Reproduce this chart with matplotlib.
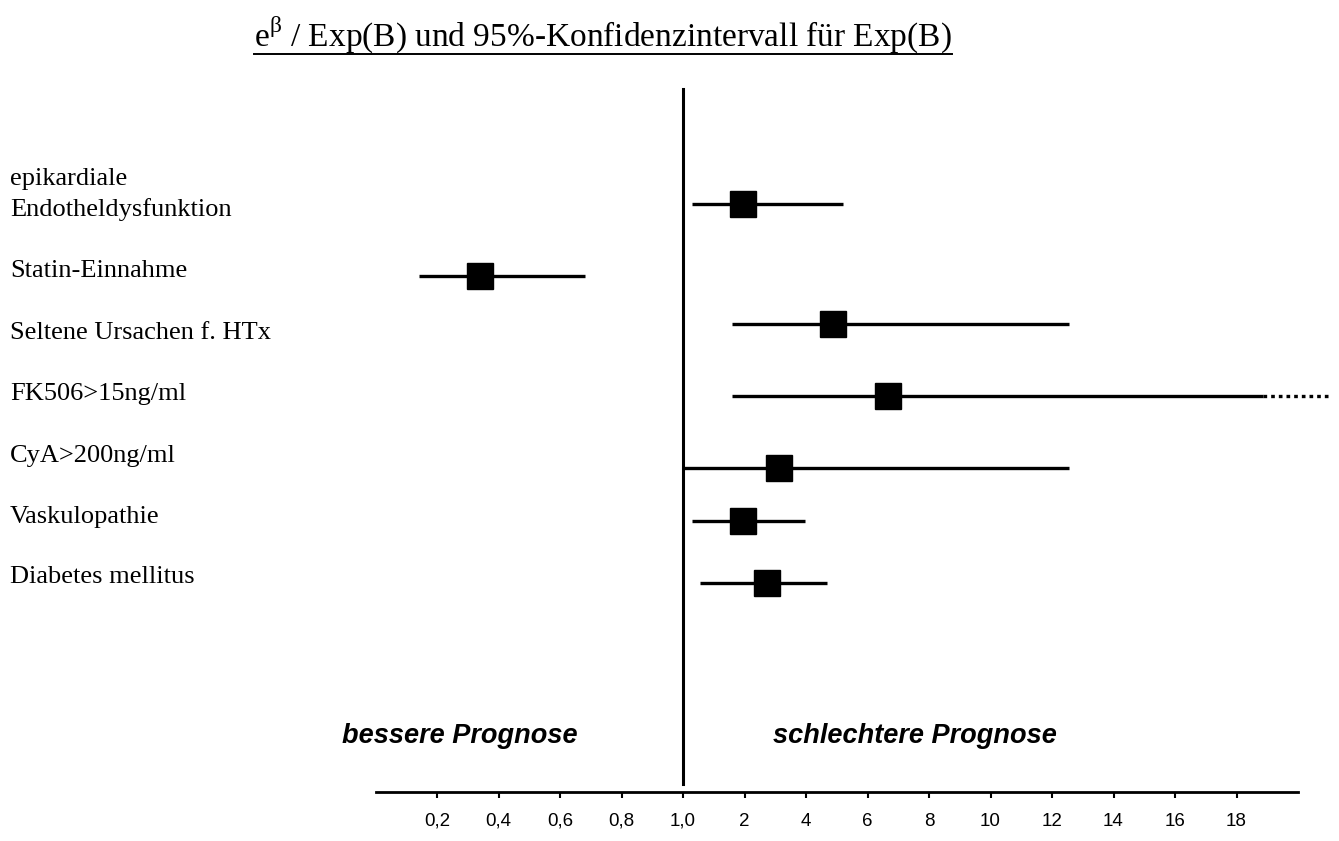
import matplotlib.pyplot as plt
import numpy as np
from matplotlib.lines import Line2D
from matplotlib.transforms import blended_transform_factory

# Exp(B) and 95% CI per predictor
categories = ['epikardiale\nEndotheldysfunktion', 'Statin-Einnahme', 'Seltene Ursachen f. HTx',
              'FK506>15ng/ml', 'CyA>200ng/ml', 'Vaskulopathie', 'Diabetes mellitus']
exp_b = [1.98, 0.34, 4.87, 6.66, 3.12, 1.98, 2.73]
ci_low = [1.14, 0.14, 1.79, 1.79, 1.00, 1.14, 1.27]
ci_high = [5.20, 0.68, 12.54, 18.85, 12.54, 3.96, 4.67]
# upper CI of FK506 runs past the axis -> dotted continuation
ci_beyond = [None, None, None, 21.0, None, None, None]

tick_values = [0.2, 0.4, 0.6, 0.8, 1.0, 2, 4, 6, 8, 10, 12, 14, 16, 18]
tick_labels = ['0,2', '0,4', '0,6', '0,8', '1,0', '2', '4', '6', '8', '10', '12', '14', '16', '18']

# layout (pixel rows, figure is 1339x841)
W, H = 1339, 841
row_y = [204, 276, 324, 396, 468, 521, 583]
label_base = [216, 277, 339, 400, 462, 523, 583]


def fwd(v):
    # 0..1 in steps of 0.2, then 1->2, then steps of 2 -- all equally spaced
    v = np.asarray(v, dtype=float)
    return np.where(v <= 1, v * 5, np.where(v <= 2, v + 4, v / 2 + 5))


def inv(k):
    k = np.asarray(k, dtype=float)
    return np.where(k <= 5, k / 5, np.where(k <= 6, k - 4, 2 * (k - 5)))


plt.rcParams['mathtext.fontset'] = 'custom'
plt.rcParams['mathtext.rm'] = 'Liberation Serif'

fig = plt.figure(figsize=(W / 100, H / 100), dpi=100)
x0 = 375.5 / W
ax = fig.add_axes([x0, 0, 1 - x0, 1])
ax.set_xscale('function', functions=(fwd, inv))
ax.set_xlim(0, float(inv((W - 375.5) / 61.5)))
ax.set_ylim(H, 0)

for s in ['top', 'left', 'right']:
    ax.spines[s].set_visible(False)
ax.spines['bottom'].set_position(('data', 792))
ax.spines['bottom'].set_bounds(0, 20)
ax.spines['bottom'].set_linewidth(2.0)
ax.set_xticks(tick_values)
ax.set_xticklabels(tick_labels, fontfamily='Liberation Sans', fontsize=13.5)
ax.xaxis.set_minor_locator(plt.NullLocator())
ax.tick_params(axis='x', direction='out', length=4, width=1.5, pad=11)
ax.set_yticks([])

ax.axvline(1.0, ymin=1 - 784 / H, ymax=1 - 89 / H, color='black', lw=2.2)

ax.hlines(row_y, ci_low, ci_high, color='black', lw=2.4)
for y, hi, far in zip(row_y, ci_high, ci_beyond):
    if far is not None:
        ax.hlines(y, hi, far, color='black', lw=2.4, linestyles=(0, (1.1, 1.2)))
ax.plot(exp_b, row_y, 's', color='black', ms=18.7, mec='black', clip_on=False)

# category labels on the left
tr = blended_transform_factory(fig.transFigure, ax.transData)
for name, yb in zip(categories, label_base):
    lines = name.split('\n')
    for j, line in enumerate(lines):
        fig.text(10 / W, yb - 31 * (len(lines) - 1 - j), line, transform=tr, ha='left', va='baseline',
                 fontfamily='Liberation Serif', fontsize=19)

fig.text(460 / W, 1 - 743 / H, 'bessere Prognose', ha='center', va='baseline',
         fontfamily='Liberation Sans', fontsize=19.5, fontweight='bold', fontstyle='italic')
fig.text(915 / W, 1 - 743 / H, 'schlechtere Prognose', ha='center', va='baseline',
         fontfamily='Liberation Sans', fontsize=19.5, fontweight='bold', fontstyle='italic')

title = fig.text(603 / W, 1 - 46 / H, 'e$^{\\mathregular{β}}$ / Exp(B) und 95%-Konfidenzintervall für Exp(B)',
                 ha='center', va='baseline', fontfamily='Liberation Serif', fontsize=24)

fig.canvas.draw()
bb = title.get_window_extent(fig.canvas.get_renderer())
fig.add_artist(Line2D([bb.x0 / W, bb.x1 / W], [1 - 54 / H, 1 - 54 / H], transform=fig.transFigure,
                      color='black', lw=1.4))

fig.savefig('out.png', dpi=100)
